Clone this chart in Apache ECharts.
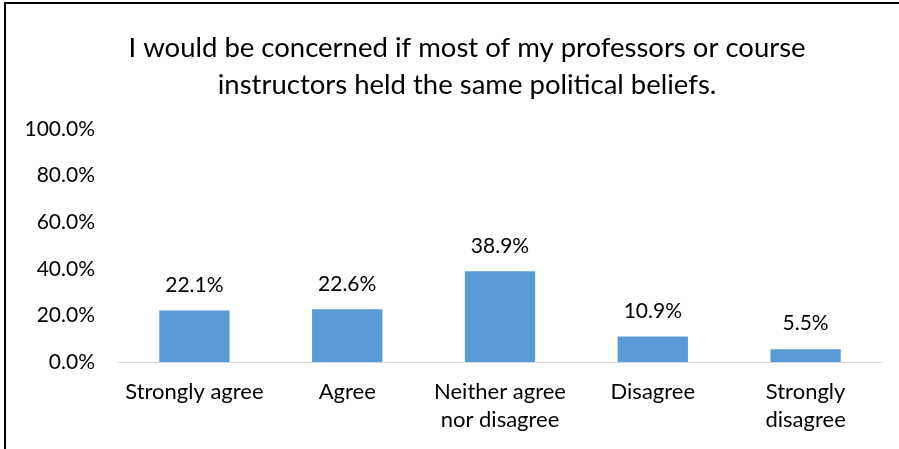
<!DOCTYPE html>
<html><head><meta charset="utf-8">
<script src="https://cdn.jsdelivr.net/npm/echarts@6/dist/echarts.min.js"></script>
<style>
html,body{margin:0;padding:0;background:#fff;}
#frame{position:absolute;left:4px;top:2px;width:895px;height:447px;border-left:2px solid #000;border-top:2px solid #000;box-sizing:border-box;}
#c{position:absolute;left:0;top:0;width:899px;height:449px;}
</style></head>
<body>
<div id="frame"></div>
<div id="c"></div>
<script>
const categories = ['Strongly agree', 'Agree', 'Neither agree\nnor disagree', 'Disagree', 'Strongly\ndisagree'];
const values = [22.1, 22.6, 38.9, 10.9, 5.5];
const titleText = 'I would be concerned if most of my professors or course\ninstructors held the same political beliefs.';
const FONT = 'Lato';
const chart = echarts.init(document.getElementById('c'), null, {renderer: 'canvas'});
chart.setOption({
  animation: false,
  title: {
    text: titleText, left: 462, top: 25, textAlign: 'center',
    textStyle: {fontFamily: FONT, fontSize: 27.5, fontWeight: 'normal', color: '#000', lineHeight: 37}
  },
  grid: {left: 118, right: 17, top: 129, bottom: 87, containLabel: false},
  xAxis: {
    type: 'category', data: categories,
    axisLine: {lineStyle: {color: '#d9d9d9', width: 1}},
    axisTick: {show: false},
    axisLabel: {fontFamily: FONT, fontSize: 22, color: '#000', margin: 16, lineHeight: 28, interval: 0}
  },
  yAxis: {
    type: 'value', min: 0, max: 100, interval: 20,
    splitLine: {show: false},
    axisLine: {show: false}, axisTick: {show: false},
    axisLabel: {fontFamily: FONT, fontSize: 21, color: '#000', margin: 23, formatter: v => v.toFixed(1) + '%'}
  },
  series: [{
    type: 'bar', data: values, barWidth: '46%',
    itemStyle: {color: '#5b9bd5'},
    label: {show: true, position: 'top', distance: 15, fontFamily: FONT, fontSize: 21, color: '#000', formatter: p => p.value.toFixed(1) + '%'}
  }]
});
</script>
</body></html>
